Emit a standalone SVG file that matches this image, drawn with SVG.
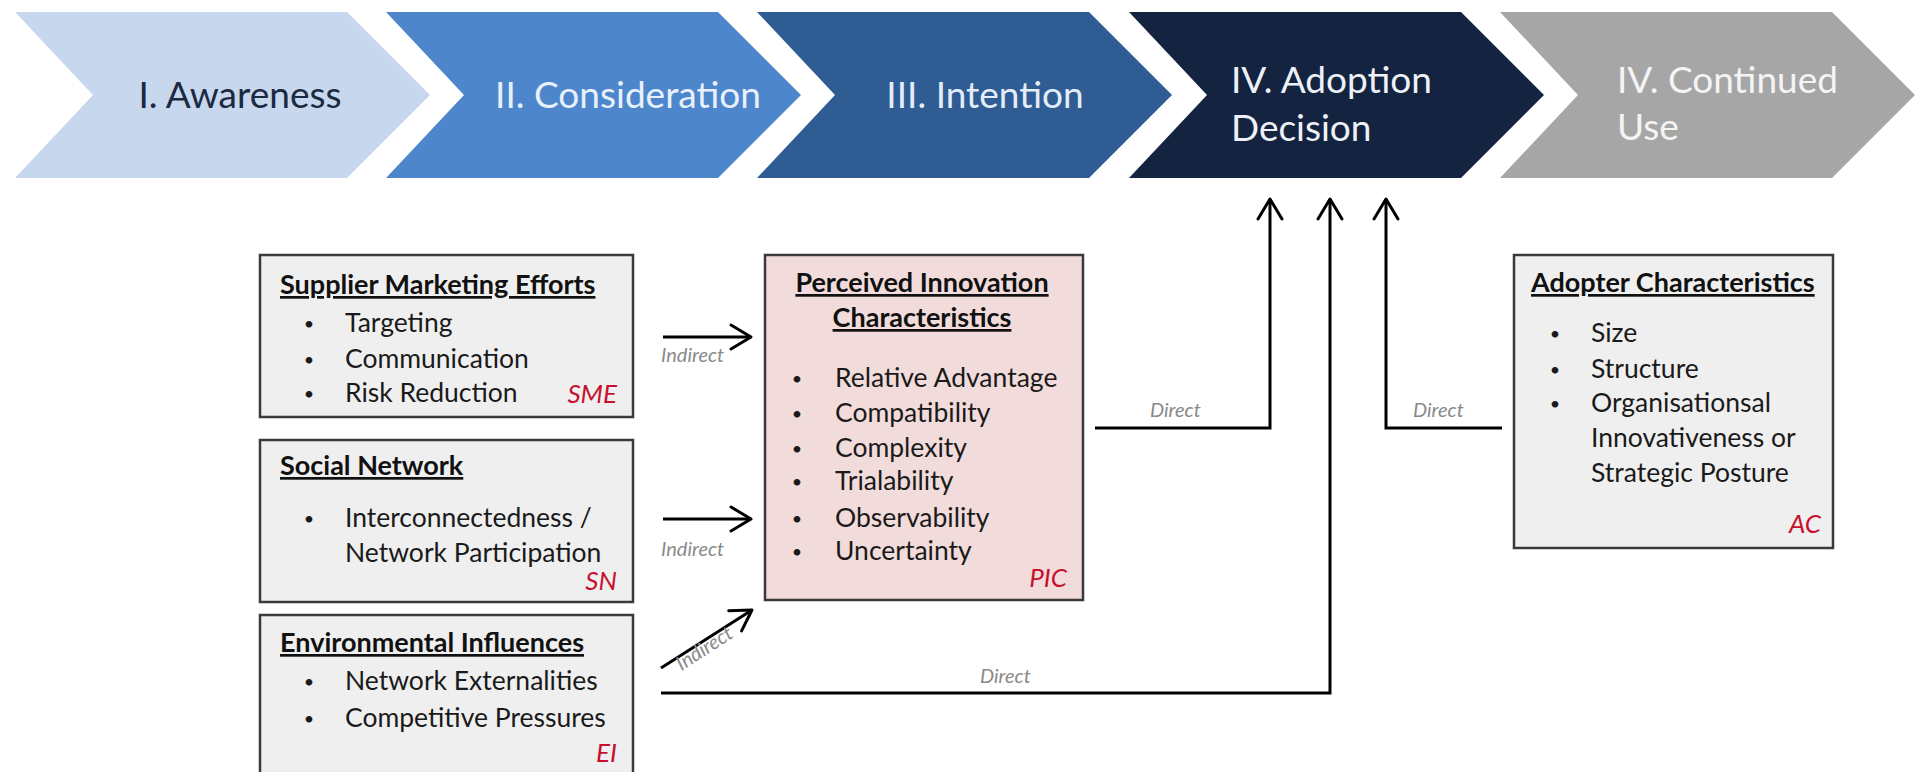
<svg xmlns="http://www.w3.org/2000/svg" width="1919" height="772" viewBox="0 0 1919 772">
<defs>
<style>
.chev-t{font-family:Lato,"Liberation Sans",sans-serif;font-size:37px}
.box{fill:#efefef;stroke:#3a3a3a;stroke-width:2.5}
.pic{fill:#f2dcdb;stroke:#3a3a3a;stroke-width:2.5}
.ttl{font-family:Lato,"Liberation Sans",sans-serif;font-size:27px;font-weight:bold;fill:#111;text-decoration:underline}
.itm{font-family:Lato,"Liberation Sans",sans-serif;font-size:26.5px;fill:#1a1a1a}
.bul{font-family:Lato,"Liberation Sans",sans-serif;font-size:18px;fill:#1a1a1a;text-anchor:middle}
.red{font-family:Lato,"Liberation Sans",sans-serif;font-size:26px;font-style:italic;fill:#c8102e;text-anchor:end}
.lbl{font-family:Lato,"Liberation Sans",sans-serif;font-size:20px;font-style:italic;fill:#8a8a8a}
.con{fill:none;stroke:#000;stroke-width:3;marker-end:url(#ah)}
</style>
<marker id="ah" markerUnits="userSpaceOnUse" markerWidth="40" markerHeight="40" viewBox="-30 -20 40 40" refX="0" refY="0" orient="auto">
<path d="M-20,-12 L0,0 L-20,12" fill="none" stroke="#000" stroke-width="3" stroke-linejoin="round" stroke-linecap="round"/>
</marker>
</defs>
<rect width="1919" height="772" fill="#ffffff"/>
<g id="stage1">
<path d="M15,12 L347,12 L430,95 L347,178 L15,178 L93,95 Z" fill="#c7d7ee"/>
<text class="chev-t" x="240" y="108" text-anchor="middle" fill="#1b2a41">I. Awareness</text>
</g>
<g id="stage2">
<path d="M386,12 L718,12 L801,95 L718,178 L386,178 L464,95 Z" fill="#4d86cb"/>
<text class="chev-t" x="628" y="108" text-anchor="middle" fill="#e8f1fb">II. Consideration</text>
</g>
<g id="stage3">
<path d="M757,12 L1089,12 L1172,95 L1089,178 L757,178 L835,95 Z" fill="#2f5c92"/>
<text class="chev-t" x="985" y="108" text-anchor="middle" fill="#e3edf9">III. Intention</text>
</g>
<g id="stage4">
<path d="M1129,12 L1461,12 L1544,95 L1461,178 L1129,178 L1207,95 Z" fill="#142440"/>
<text class="chev-t" x="1231" y="93" fill="#eef2f8">IV. Adoption</text>
<text class="chev-t" x="1231" y="141" fill="#eef2f8">Decision</text>
</g>
<g id="stage5">
<path d="M1500,12 L1832,12 L1915,95 L1832,178 L1500,178 L1578,95 Z" fill="#a6a6a6"/>
<text class="chev-t" x="1617" y="93" fill="#f4f4f4">IV. Continued</text>
<text class="chev-t" x="1617" y="140" fill="#f4f4f4">Use</text>
</g>
<g id="sme">
<rect class="box" x="260" y="255" width="373" height="162"/>
<text class="ttl" x="280" y="294">Supplier Marketing Efforts</text>
<text class="bul" x="309" y="330">•</text><text class="itm" x="345" y="332">Targeting</text>
<text class="bul" x="309" y="366">•</text><text class="itm" x="345" y="368">Communication</text>
<text class="bul" x="309" y="400">•</text><text class="itm" x="345" y="402">Risk Reduction</text>
<text class="red" x="617" y="403">SME</text>
</g>
<g id="sn">
<rect class="box" x="260" y="440" width="373" height="162"/>
<text class="ttl" x="280" y="475">Social Network</text>
<text class="bul" x="309" y="525">•</text><text class="itm" x="345" y="527">Interconnectedness /</text>
<text class="itm" x="345" y="562">Network Participation</text>
<text class="red" x="617" y="590">SN</text>
</g>
<g id="ei">
<rect class="box" x="260" y="615" width="373" height="175"/>
<text class="ttl" x="280" y="652">Environmental Influences</text>
<text class="bul" x="309" y="688">•</text><text class="itm" x="345" y="690">Network Externalities</text>
<text class="bul" x="309" y="725">•</text><text class="itm" x="345" y="727">Competitive Pressures</text>
<text class="red" x="617" y="762">EI</text>
</g>
<g id="pic">
<rect class="pic" x="765" y="255" width="318" height="345"/>
<text class="ttl" x="922" y="292" text-anchor="middle">Perceived Innovation</text>
<text class="ttl" x="922" y="327" text-anchor="middle">Characteristics</text>
<text class="bul" x="797" y="385">•</text><text class="itm" x="835" y="387">Relative Advantage</text>
<text class="bul" x="797" y="420">•</text><text class="itm" x="835" y="422">Compatibility</text>
<text class="bul" x="797" y="455">•</text><text class="itm" x="835" y="457">Complexity</text>
<text class="bul" x="797" y="488">•</text><text class="itm" x="835" y="490">Trialability</text>
<text class="bul" x="797" y="525">•</text><text class="itm" x="835" y="527">Observability</text>
<text class="bul" x="797" y="558">•</text><text class="itm" x="835" y="560">Uncertainty</text>
<text class="red" x="1067" y="587">PIC</text>
</g>
<g id="ac">
<rect class="box" x="1514" y="255" width="319" height="293"/>
<text class="ttl" x="1531" y="292">Adopter Characteristics</text>
<text class="bul" x="1555" y="340">•</text><text class="itm" x="1591" y="342">Size</text>
<text class="bul" x="1555" y="376">•</text><text class="itm" x="1591" y="378">Structure</text>
<text class="bul" x="1555" y="410">•</text><text class="itm" x="1591" y="412">Organisationsal</text>
<text class="itm" x="1591" y="447">Innovativeness or</text>
<text class="itm" x="1591" y="482">Strategic Posture</text>
<text class="red" x="1821" y="533">AC</text>
</g>
<g id="connectors">
<path class="con" d="M663,337 L751,337"/>
<path class="con" d="M663,519 L751,519"/>
<path class="con" d="M661,668 L752,610"/>
<path class="con" d="M1095,428 L1270,428 L1270,199"/>
<path class="con" d="M661,693 L1330,693 L1330,199"/>
<path class="con" d="M1502,428 L1386,428 L1386,199"/>
<text class="lbl" x="661" y="362">Indirect</text>
<text class="lbl" x="661" y="556">Indirect</text>
<text class="lbl" transform="translate(708,654) rotate(-33)" x="0" y="0" text-anchor="middle">Indirect</text>
<text class="lbl" x="1150" y="417">Direct</text>
<text class="lbl" x="1413" y="417">Direct</text>
<text class="lbl" x="980" y="683">Direct</text>
</g>
</svg>
